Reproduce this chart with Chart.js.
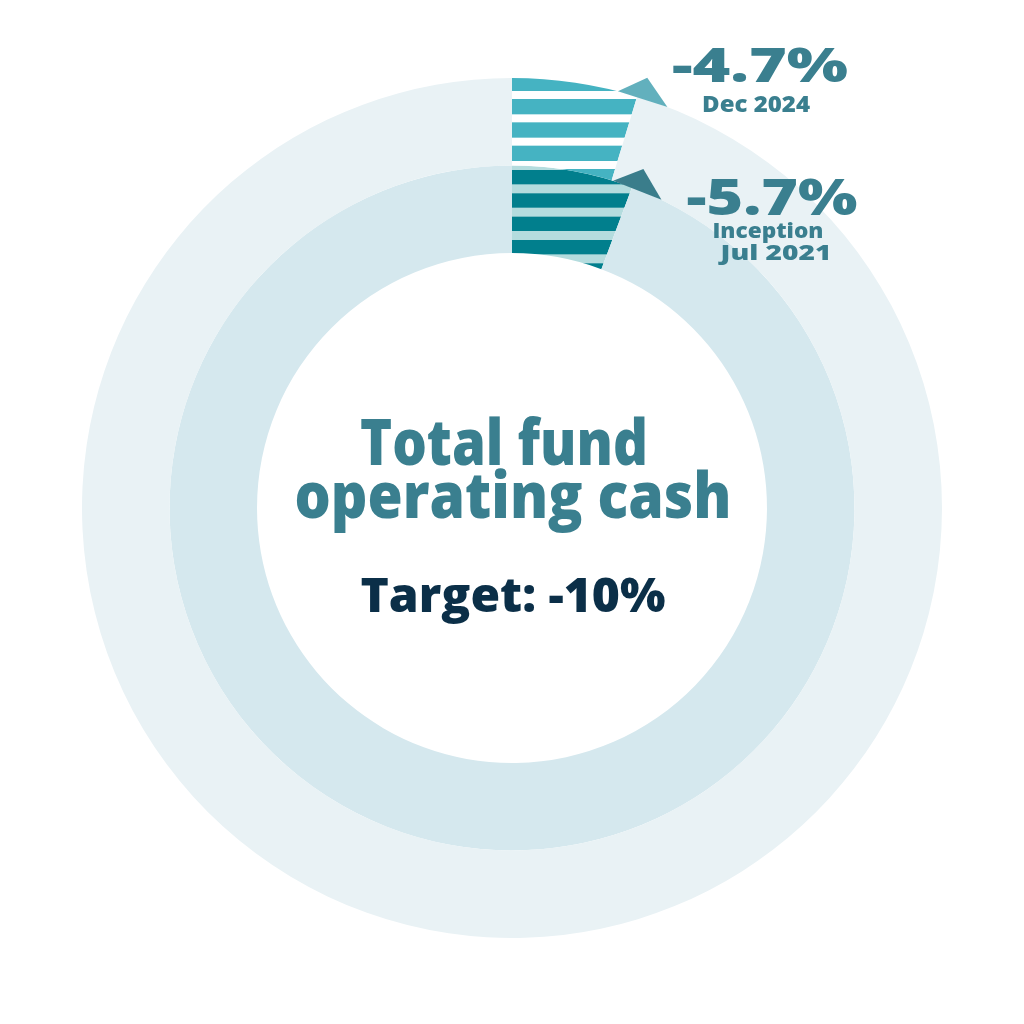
<!DOCTYPE html>
<html>
<head>
<meta charset="utf-8">
<title>Total fund operating cash</title>
<script src="https://cdn.jsdelivr.net/npm/chart.js@4.4.1/dist/chart.umd.min.js"></script>
<style>
  html, body { margin: 0; padding: 0; background: #ffffff; }
  canvas { display: block; }
</style>
</head>
<body>
<canvas id="cashChart" width="1024" height="1024"></canvas>
<script>
  // Data
  const categories = ['Dec 2024', 'Inception Jul 2021']
  const reductionValues = [4.7, 5.7]   // % reduction, shown as -4.7% / -5.7%
  const fullScale = 100
  const percentLabels = ['-4.7%', '-5.7%']
  const subLabels = [['Dec 2024'], ['Inception', 'Jul 2021']]
  const centerTitle = ['Total fund', 'operating cash']
  const targetLabel = 'Target: -10%'

  const FONT = '"Open Sans", "DejaVu Sans", sans-serif'

  // striped fill, stripes line up across both rings
  function stripes(color, gapColor, gapHeight) {
    const c = document.createElement('canvas')
    c.width = 8
    c.height = 70
    const g = c.getContext('2d')
    g.fillStyle = color
    g.fillRect(0, 0, 8, 70)
    g.fillStyle = gapColor
    for (let k = 0; k < 3; k++) {
      const y = 21 + k * 70 / 3
      g.fillRect(0, y, 8, gapHeight)
      if (y + gapHeight > 70) g.fillRect(0, y - 70, 8, gapHeight)
    }
    return g.createPattern(c, 'repeat')
  }

  const ctx = document.getElementById('cashChart')

  const ringColors = [
    [stripes('#45b3c2', '#ffffff', 8), '#e9f2f5'],
    [stripes('#017f8d', '#b4dcde', 9), '#d5e8ee']
  ]
  const arrowColors = ['#62b0bd', '#3a7d8b']

  // text drawn at a size and squeezed/stretched to a width
  function fitText(c, text, x, y, size, width, color) {
    c.save()
    c.font = '800 ' + size + 'px ' + FONT
    c.fillStyle = color
    c.textAlign = 'center'
    c.textBaseline = 'alphabetic'
    const w = c.measureText(text).width
    c.translate(x, y)
    c.scale(width / w, 1)
    c.fillText(text, 0, 0)
    c.restore()
  }

  const annotations = {
    id: 'annotations',
    afterDatasetsDraw(chart) {
      const c = chart.ctx
      // pointers at the end of each striped arc
      chart.data.datasets.forEach((ds, i) => {
        const arc = chart.getDatasetMeta(i).data[0]
        const r = arc.outerRadius
        const at = (px, rr) => {
          const a = arc.endAngle + px / r
          return [arc.x + rr * Math.cos(a), arc.y + rr * Math.sin(a)]
        }
        const p1 = at(-20, r)
        const p2 = at(4, r + 21)
        const p3 = at(32, r)
        c.save()
        c.fillStyle = arrowColors[i]
        c.beginPath()
        c.moveTo(p1[0], p1[1])
        c.lineTo(p2[0], p2[1])
        c.lineTo(p3[0], p3[1])
        c.closePath()
        c.fill()
        c.restore()
      })

      const arc = chart.getDatasetMeta(0).data[0]
      const cx = arc.x
      const cy = arc.y
      const teal = '#3a7f8f'

      // labels beside the arcs
      fitText(c, percentLabels[0], cx + 248, cy - 426, 48, 176, teal)
      fitText(c, subLabels[0][0], cx + 244, cy - 396, 22, 108, teal)
      fitText(c, percentLabels[1], cx + 260, cy - 293, 49, 171, teal)
      fitText(c, subLabels[1][0], cx + 256, cy - 270, 21, 111, teal)
      fitText(c, subLabels[1][1], cx + 264, cy - 248, 21, 111, teal)

      // centre text
      fitText(c, centerTitle[0], cx - 8, cy - 43, 63, 288, teal)
      fitText(c, centerTitle[1], cx + 1, cy + 10, 63, 437, teal)
      fitText(c, targetLabel, cx + 1, cy + 104, 48, 305, '#0b2f48')
    }
  }

  const cashChart = new Chart(ctx, {
    type: 'doughnut',
    data: {
      labels: categories,
      datasets: reductionValues.map((v, i) => ({
        label: categories[i],
        data: [v, fullScale - v],
        backgroundColor: ringColors[i],
        borderWidth: 0,
        hoverOffset: 0
      }))
    },
    options: {
      responsive: false,
      animation: false,
      cutout: '59.3%',
      layout: {
        padding: { left: 82, right: 82, top: 78, bottom: 86 }
      },
      plugins: {
        legend: { display: false },
        tooltip: { enabled: false }
      }
    },
    plugins: [annotations]
  })
</script>
</body>
</html>
